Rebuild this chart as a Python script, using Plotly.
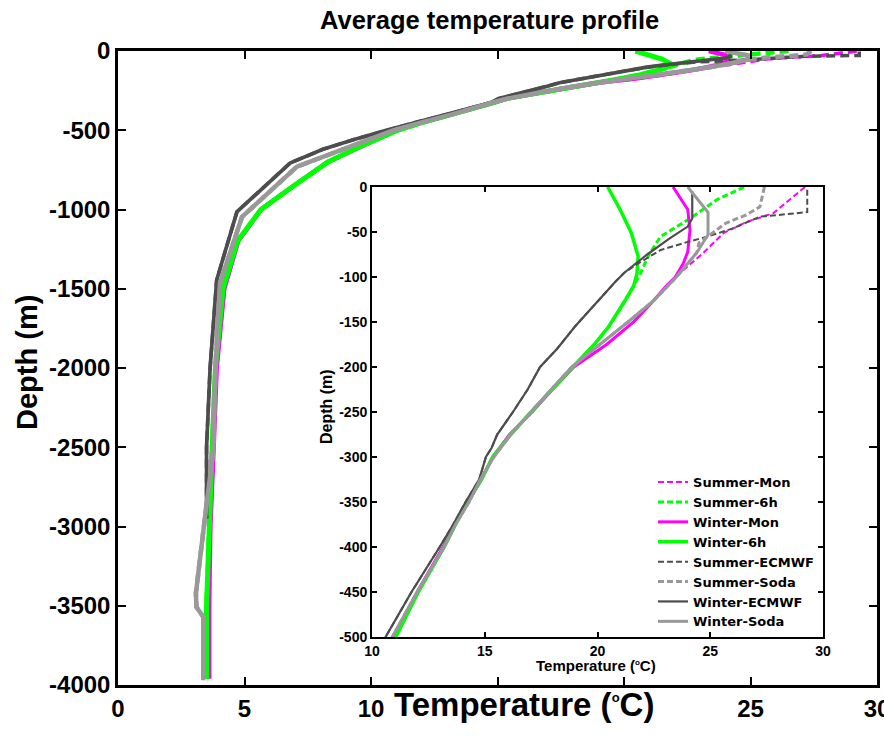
import plotly.graph_objects as go

# ---- Temperature profiles (depth in m, temperature in degC) ----
# Monthly model output: season-specific surface layer + common deep part
summer_mon_depth = [0, -29, -39, -51, -73, -88, -100]
summer_mon_temp = [29.2, 27.8, 26.6, 25.6, 24.7, 24.0, 23.45]
winter_mon_depth = [0, -25, -48, -72, -85, -100]
winter_mon_temp = [23.35, 24.0, 24.1, 24.0, 23.8, 23.45]
mon_deep_depth = [-110, -130, -150, -175, -200, -225, -250, -275, -300, -325, -350,
                  -375, -400, -450, -500, -600, -700, -850, -1000, -1200, -1500,
                  -1750, -2000, -2500, -3000, -3500, -3960]
mon_deep_temp = [23.05, 22.35, 21.6, 20.4, 18.95, 18.0, 17.1, 16.1, 15.35, 14.85, 14.25,
                 13.65, 13.15, 12.0, 11.0, 9.6, 8.3, 6.95, 5.65, 4.75, 4.2,
                 4.05, 3.9, 3.78, 3.65, 3.6, 3.6]

# 6-hourly model output
summer_6h_depth = [0, -14, -35, -55, -74, -96, -110]
summer_6h_temp = [26.5, 25.3, 24.1, 22.8, 22.3, 21.9, 21.6]
winter_6h_depth = [0, -25, -51, -77, -96, -110]
winter_6h_temp = [20.45, 21.0, 21.5, 21.8, 21.75, 21.6]
h6_deep_depth = [-125, -155, -175, -200, -225, -250, -275, -300, -325, -350, -375,
                 -400, -450, -500, -600, -700, -850, -1000, -1200, -1500, -1750,
                 -2000, -2500, -3000, -3500, -3960]
h6_deep_temp = [21.25, 20.5, 19.85, 18.9, 17.95, 17.05, 16.15, 15.35, 14.85, 14.25, 13.7,
                13.2, 12.05, 11.05, 9.6, 8.3, 6.95, 5.65, 4.72, 4.15, 4.0,
                3.85, 3.72, 3.6, 3.5, 3.5]

# ECMWF reanalysis
summer_ecmwf_depth = [-3, -28, -33, -46, -55, -61, -70, -85]
summer_ecmwf_temp = [29.3, 29.3, 27.2, 26.0, 24.9, 24.0, 22.8, 21.8]
winter_ecmwf_depth = [-5, -35, -44, -57, -75, -85]
winter_ecmwf_temp = [24.2, 24.2, 24.0, 23.2, 22.2, 21.7]
ecmwf_deep_depth = [-95, -105, -130, -155, -180, -200, -225, -250, -275, -290, -300,
                    -325, -350, -375, -400, -450, -500, -560, -620, -707, -1015,
                    -1445, -2000, -2500, -2950]
ecmwf_deep_temp = [21.2, 20.8, 19.9, 19.0, 18.2, 17.45, 16.9, 16.25, 15.55, 15.3, 15.05,
                   14.75, 14.15, 13.6, 13.0, 11.75, 10.6, 9.3, 8.1, 6.8, 4.7,
                   3.9, 3.64, 3.5, 3.5]

# SODA reanalysis
summer_soda_depth = [0, -22, -31, -40, -62]
summer_soda_temp = [27.4, 27.2, 26.6, 25.7, 24.5]
winter_soda_depth = [0, -28, -53]
winter_soda_temp = [24.0, 24.9, 24.9]
soda_deep_depth = [-73, -100, -126, -150, -175, -200, -225, -250, -275, -300, -325,
                   -350, -375, -400, -450, -500, -730, -1047, -1465, -2000, -2500,
                   -2580, -2940, -3230, -3420, -3508, -3570, -3970]
soda_deep_temp = [24.4, 23.5, 22.5, 21.35, 20.1, 18.85, 17.95, 17.05, 16.15, 15.4, 14.8,
                  14.3, 13.7, 13.2, 12.0, 10.9, 7.07, 4.9, 4.03, 3.85, 3.77,
                  3.72, 3.44, 3.24, 3.08, 3.1, 3.37, 3.37]

# ---- Axis ticks ----
main_temp_ticks = [0, 5, 10, 15, 20, 25, 30]
main_temp_labels = ["0", "5", "10", "", "", "25", "30"]  # middle ones sit under the axis title
main_depth_ticks = [0, -500, -1000, -1500, -2000, -2500, -3000, -3500, -4000]
inset_temp_ticks = [10, 15, 20, 25, 30]
inset_depth_ticks = [0, -50, -100, -150, -200, -250, -300, -350, -400, -450, -500]

MAGENTA = "#FF00FF"
GREEN = "#00FF00"
DARK = "#4D4D4D"
LIGHT = "#999999"

# name, depth, temp, colour, dashed, inset line width
series = [
    ("Summer-Mon", summer_mon_depth + mon_deep_depth, summer_mon_temp + mon_deep_temp, MAGENTA, True, 2),
    ("Summer-6h", summer_6h_depth + h6_deep_depth, summer_6h_temp + h6_deep_temp, GREEN, True, 3),
    ("Winter-Mon", winter_mon_depth + mon_deep_depth, winter_mon_temp + mon_deep_temp, MAGENTA, False, 3),
    ("Winter-6h", winter_6h_depth + h6_deep_depth, winter_6h_temp + h6_deep_temp, GREEN, False, 3.5),
    ("Summer-ECMWF", summer_ecmwf_depth + ecmwf_deep_depth, summer_ecmwf_temp + ecmwf_deep_temp, DARK, True, 2),
    ("Summer-Soda", summer_soda_depth + soda_deep_depth, summer_soda_temp + soda_deep_temp, LIGHT, True, 3),
    ("Winter-ECMWF", winter_ecmwf_depth + ecmwf_deep_depth, winter_ecmwf_temp + ecmwf_deep_temp, DARK, False, 2.2),
    ("Winter-Soda", winter_soda_depth + soda_deep_depth, winter_soda_temp + soda_deep_temp, LIGHT, False, 3),
]

FONT = "Liberation Sans, Arial, sans-serif"
LEGEND_FONT = "DejaVu Sans, sans-serif"

fig = go.Figure()

# Full-depth profiles (main axes)
for name, depth, temp, color, dashed, lw in series:
    fig.add_trace(go.Scatter(
        x=temp, y=depth, mode="lines", name=name, showlegend=False,
        line=dict(color=color, width=lw + 1.5, dash="9px,5px" if dashed else "solid"),
        xaxis="x", yaxis="y", hoverinfo="skip"))

# Upper 500 m (inset axes)
for name, depth, temp, color, dashed, lw in series:
    fig.add_trace(go.Scatter(
        x=temp, y=depth, mode="lines", name=name, showlegend=True,
        line=dict(color=color, width=lw, dash="6px,3px" if dashed else "solid"),
        xaxis="x2", yaxis="y2", hoverinfo="skip"))

axis_common = dict(showgrid=False, zeroline=False, showline=True, linecolor="black",
                   ticks="inside", tickcolor="black", mirror="ticks", automargin=False,
                   ticklabeloverflow="allow")

fig.update_layout(
    width=884, height=751,
    margin=dict(l=118, r=7, t=51, b=66, autoexpand=False),
    paper_bgcolor="white", plot_bgcolor="white",
    font=dict(family=FONT, color="black"),
    xaxis=dict(domain=[0, 1], anchor="y", range=[0, 30],
               tickvals=main_temp_ticks, ticktext=main_temp_labels,
               tickfont=dict(size=24, weight="bold"), linewidth=2.5, ticklen=8, tickwidth=2,
               **axis_common),
    yaxis=dict(domain=[0, 1], anchor="x", range=[-4000, 0],
               tickvals=main_depth_ticks, ticktext=[str(v) for v in main_depth_ticks],
               tickfont=dict(size=24, weight="bold"), linewidth=2.5, ticklen=8, tickwidth=2,
               **axis_common),
    xaxis2=dict(domain=[0.3347, 0.9289], anchor="y2", range=[10, 30],
                tickvals=inset_temp_ticks, ticktext=[str(v) for v in inset_temp_ticks],
                tickfont=dict(size=14, weight="bold"), linewidth=2, ticklen=5, tickwidth=1.5,
                **axis_common),
    yaxis2=dict(domain=[0.0757, 0.7855], anchor="x2", range=[-500, 0],
                tickvals=inset_depth_ticks, ticktext=[str(v) for v in inset_depth_ticks],
                tickfont=dict(size=14, weight="bold"), linewidth=2, ticklen=5, tickwidth=1.5,
                **axis_common),
    legend=dict(x=0.7049, y=0.3437, xanchor="left", yanchor="top",
                bgcolor="rgba(0,0,0,0)", borderwidth=0, tracegroupgap=0,
                font=dict(size=13, weight="bold", family=LEGEND_FONT)),
    showlegend=True,
)

annotations = [
    dict(text="Average temperature profile", x=0.49, y=1.0489, font=dict(size=25.5, weight="bold")),
    dict(text="Temperature (<sup><span style=\"font-size:13px\">o</span></sup>C)",
         x=0.535, y=-0.031, font=dict(size=33, weight="bold")),
    dict(text="Depth (m)", x=-0.1199, y=0.5095, textangle=-90, font=dict(size=29, weight="bold")),
    dict(text="Temperature (<sup><span style=\"font-size:8px\">o</span></sup>C)",
         x=0.6298, y=0.0315, font=dict(size=15, weight="bold")),
    dict(text="Depth (m)", x=0.274, y=0.44, textangle=-90, font=dict(size=16, weight="bold")),
]
for a in annotations:
    fig.add_annotation(xref="paper", yref="paper", showarrow=False,
                       xanchor="center", yanchor="middle", **a)

fig.write_html("out.html")
